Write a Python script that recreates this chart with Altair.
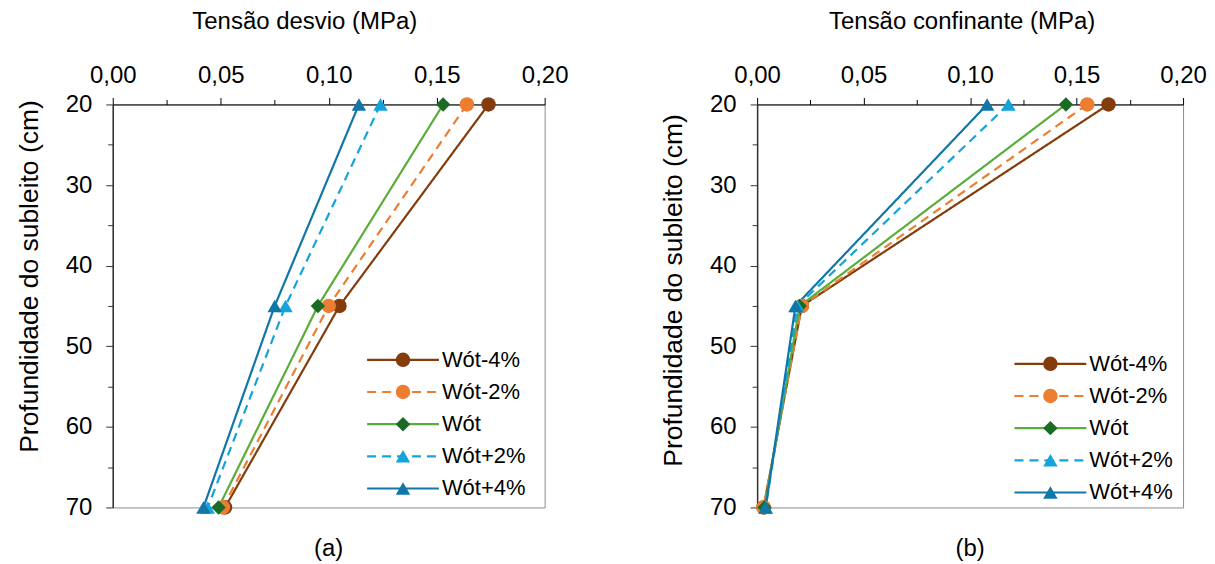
import altair as alt
import pandas as pd

series = ["Wót-4%", "Wót-2%", "Wót", "Wót+2%", "Wót+4%"]
depths = [20, 45, 70]

desvio = {
    "Wót-4%": [0.174, 0.105, 0.052],
    "Wót-2%": [0.164, 0.100, 0.051],
    "Wót": [0.153, 0.095, 0.049],
    "Wót+2%": [0.124, 0.080, 0.044],
    "Wót+4%": [0.114, 0.075, 0.042],
}
confinante = {
    "Wót-4%": [0.165, 0.021, 0.003],
    "Wót-2%": [0.155, 0.021, 0.003],
    "Wót": [0.145, 0.020, 0.0035],
    "Wót+2%": [0.118, 0.019, 0.004],
    "Wót+4%": [0.108, 0.018, 0.004],
}

line_colors = ["#843C0C", "#ED7D31", "#5BAD3A", "#14A4DC", "#1176A8"]
marker_colors = ["#843C0C", "#ED7D31", "#1B6B26", "#14A4DC", "#1176A8"]
shapes = ["circle", "circle", "diamond", "triangle-up", "triangle-up"]
dashes = [[1, 0], [9, 6], [1, 0], [9, 6], [1, 0]]

x_ticks = [0.0, 0.025, 0.05, 0.075, 0.10, 0.125, 0.15, 0.175, 0.20]
y_ticks = [20, 25, 30, 35, 40, 45, 50, 55, 60, 65, 70]

FONT = "Liberation Sans"


def long_df(d):
    rows = []
    for s in series:
        for dep, v in zip(depths, d[s]):
            rows.append({"series": s, "depth": dep, "value": v})
    return pd.DataFrame(rows)


color_sc = alt.Scale(domain=series, range=line_colors)
fill_sc = alt.Scale(domain=series, range=marker_colors)
shape_sc = alt.Scale(domain=series, range=shapes)
dash_sc = alt.Scale(domain=series, range=dashes)


def panel(d, xtitle, caption, w, xt_x, yt_y, lx, ly0):
    df = long_df(d)
    leg = pd.DataFrame({"series": series})
    x = alt.X(
        "value:Q",
        scale=alt.Scale(domain=[0, 0.2], nice=False, zero=False),
        axis=alt.Axis(
            orient="top",
            title=xtitle,
            titleX=xt_x,
            values=x_ticks,
            labelExpr="round(datum.value*40)%2==0 ? replace(format(datum.value,'.2f'),'.',',') : ''",
            tickSize={"condition": {"test": "round(datum.value*40)%2==0", "value": 7}, "value": 5},
            tickColor="black",
            domainColor="black",
            grid=False,
            labelFlush=False,
            labelFont=FONT,
            labelFontSize=24,
            labelColor="black",
            labelPadding=10,
            titleFont=FONT,
            titleFontSize=24,
            titleFontWeight="normal",
            titleColor="black",
            titlePadding=30,
        ),
    )
    y = alt.Y(
        "depth:Q",
        scale=alt.Scale(domain=[20, 70], nice=False, zero=False, reverse=True),
        axis=alt.Axis(
            title="Profundidade do subleito (cm)",
            titleY=yt_y,
            values=y_ticks,
            labelExpr="datum.value % 10 == 0 ? datum.label : ''",
            tickSize={"condition": {"test": "datum.value % 10 == 0", "value": 7}, "value": 5},
            tickColor="#333333",
            domainColor="#333333",
            domainWidth=1.5,
            grid=False,
            labelFlush=False,
            labelFont=FONT,
            labelFontSize=24,
            labelColor="black",
            labelPadding=14,
            titleFont=FONT,
            titleFontSize=26.5,
            titleFontWeight="normal",
            titleColor="black",
            titlePadding=22,
        ),
    )
    lines = alt.Chart(df).mark_line(strokeWidth=2.2).encode(
        x=x, y=y,
        color=alt.Color("series:N", scale=color_sc, legend=None),
        strokeDash=alt.StrokeDash("series:N", scale=dash_sc, legend=None),
        detail="series:N",
        order=alt.Order("depth:Q"),
    )
    pts = alt.Chart(df).mark_point(filled=True, opacity=1, size=210).encode(
        x=x, y=y,
        fill=alt.Fill("series:N", scale=fill_sc, legend=None),
        shape=alt.Shape("series:N", scale=shape_sc, legend=None),
    )
    ly = alt.Y(
        "series:N",
        scale=alt.Scale(type="point", domain=series, range=[ly0, ly0 + 129], padding=0),
        axis=None,
    )
    leg_rule = alt.Chart(leg).mark_rule(strokeWidth=2.2).encode(
        x=alt.value(lx), x2=alt.value(lx + 72), y=ly,
        color=alt.Color("series:N", scale=color_sc, legend=None),
        strokeDash=alt.StrokeDash("series:N", scale=dash_sc, legend=None),
    )
    leg_pt = alt.Chart(leg).mark_point(filled=True, opacity=1, size=210).encode(
        x=alt.value(lx + 36), y=ly,
        fill=alt.Fill("series:N", scale=fill_sc, legend=None),
        shape=alt.Shape("series:N", scale=shape_sc, legend=None),
    )
    leg_txt = alt.Chart(leg).mark_text(
        align="left", baseline="middle", font=FONT, fontSize=22, color="black"
    ).encode(x=alt.value(lx + 75), y=ly, text="series:N")
    main = alt.layer(lines, pts)
    legend = alt.layer(leg_rule, leg_pt, leg_txt)
    return (
        alt.layer(main, legend)
        .resolve_scale(y="independent")
        .properties(
            width=w,
            height=404,
            title=alt.TitleParams(
                caption, orient="bottom", font=FONT, fontSize=24,
                fontWeight="normal", color="black", offset=18,
            ),
        )
    )


a = panel(desvio, "Tensão desvio (MPa)", "(a)", 433, 192, 172, 255, 256)
b = panel(confinante, "Tensão confinante (MPa)", "(b)", 427, 205, 186, 258, 260)

chart = (
    alt.hconcat(a, b, spacing=91)
    .properties(padding={"left": 7, "top": 0, "right": 0, "bottom": 0}, background="white")
    .configure_view(stroke="#8c8c8c", strokeWidth=1)
)

chart.save("out.html", embed_options={"renderer": "svg", "actions": False})
